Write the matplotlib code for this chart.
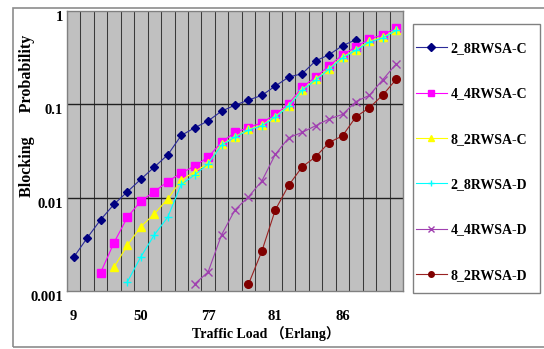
"""Blocking probability vs traffic load for the six RWSA variants."""

import matplotlib
matplotlib.use("Agg")
import matplotlib.pyplot as plt
import matplotlib.patches as mpatches
import matplotlib.transforms as mtransforms
import numpy as np

# category axis: 25 load points, only every fifth one is labelled
N_CATEGORIES = 25
X_TICK_POS = [0, 5, 10, 15, 20]
X_TICK_LABELS = ["9", "50", "77", "81", "86"]

# each series starts at a category index
RWSA_2_8_C_START = 0
RWSA_2_8_C = [0.0023, 0.0037, 0.0058, 0.0085, 0.0116, 0.0158, 0.0213, 0.0288,
              0.0465, 0.056, 0.0665, 0.0845, 0.098, 0.111, 0.125, 0.157,
              0.196, 0.213, 0.292, 0.340, 0.425, 0.493]

RWSA_4_4_C_START = 2
RWSA_4_4_C = [0.00157, 0.0033, 0.0062, 0.0092, 0.0116, 0.0149, 0.0184, 0.0218,
              0.0272, 0.0394, 0.050, 0.0564, 0.0635, 0.078, 0.101, 0.153,
              0.196, 0.258, 0.340, 0.411, 0.503, 0.553, 0.662]

RWSA_8_2_C_START = 3
RWSA_8_2_C = [0.0018, 0.0031, 0.0049, 0.0067, 0.0097, 0.0154, 0.019, 0.0233,
              0.0372, 0.045, 0.054, 0.060, 0.074, 0.097, 0.144, 0.185,
              0.242, 0.322, 0.386, 0.475, 0.525, 0.628]

RWSA_2_8_D_START = 4
RWSA_2_8_D = [0.00126, 0.00233, 0.0040, 0.0062, 0.0139, 0.0175, 0.023, 0.0366,
              0.0445, 0.053, 0.059, 0.073, 0.096, 0.142, 0.182, 0.238,
              0.316, 0.380, 0.465, 0.515, 0.620]

RWSA_4_4_D_START = 9
RWSA_4_4_D = [0.00119, 0.0016, 0.0040, 0.0074, 0.0102, 0.0151, 0.0291, 0.0439,
              0.050, 0.059, 0.0696, 0.078, 0.107, 0.125, 0.184, 0.272]

RWSA_8_2_D_START = 13
RWSA_8_2_D = [0.00118, 0.00268, 0.0074, 0.0136, 0.0214, 0.0274, 0.039, 0.046,
              0.0736, 0.092, 0.126, 0.186]

# name, start, values, line colour, marker colour, marker, size
SERIES = [
    ("2_8RWSA-C", RWSA_2_8_C_START, RWSA_2_8_C, "#2B2B99", "#000080", "D", 4.2),
    ("4_4RWSA-C", RWSA_4_4_C_START, RWSA_4_4_C, "#FF00FF", "#FF00FF", "s", 5.5),
    ("8_2RWSA-C", RWSA_8_2_C_START, RWSA_8_2_C, "#FFFF00", "#FFFF00", "^", 5.5),
    ("2_8RWSA-D", RWSA_2_8_D_START, RWSA_2_8_D, "#00FFFF", "#00FFFF", "+", 5.5),
    ("4_4RWSA-D", RWSA_4_4_D_START, RWSA_4_4_D, "#A040B0", "#A040B0", "x", 5.5),
    ("8_2RWSA-D", RWSA_8_2_D_START, RWSA_8_2_D, "#992222", "#800000", "o", 5.5),
]

SERIF = ["Liberation Serif", "DejaVu Serif"]
W, H = 544, 349


def main() -> None:
    fig = plt.figure(figsize=(W / 100, H / 100), dpi=100)
    fig.patch.set_facecolor("white")

    # outer chart border
    fig.add_artist(mpatches.Rectangle((13 / W, 1 - 347 / H), 540 / W, 339 / H,
                                      transform=fig.transFigure, fill=False,
                                      edgecolor="#8c8c8c", linewidth=1.2))

    ax = fig.add_axes([67 / W, 1 - 291 / H, 336 / W, 280 / H])
    ax.set_facecolor("#C0C0C0")

    for name, start, vals, lc, mc, marker, ms in SERIES:
        x = np.arange(start, start + len(vals))
        ax.plot(x, vals, color=lc, linewidth=0.8, marker=marker,
                markersize=ms, markerfacecolor=mc, markeredgecolor=mc,
                markeredgewidth=1.0, label=name, zorder=3)

    ax.set_yscale("log")
    ax.set_ylim(0.001, 1)
    ax.set_xlim(-0.5, N_CATEGORIES - 0.5)

    # category separators and decade gridlines
    for b in np.arange(-0.5, N_CATEGORIES, 1.0):
        ax.axvline(b, color="#3a3a3a", linewidth=0.75, zorder=1)
    for yv in (0.01, 0.1):
        ax.axhline(yv, color="#202020", linewidth=1.0, zorder=1)

    for side in ("top", "right", "bottom", "left"):
        ax.spines[side].set_color("#808080")
        ax.spines[side].set_linewidth(1.0)

    ax.set_yticks([0.001, 0.01, 0.1, 1])
    ax.set_yticklabels(["0.001", "0.01", "0.1", "1"])
    ax.yaxis.set_minor_locator(matplotlib.ticker.NullLocator())
    ax.set_xticks(X_TICK_POS)
    ax.set_xticklabels(X_TICK_LABELS)
    ax.tick_params(axis="both", length=0)
    ax.tick_params(axis="y", pad=3)
    ax.tick_params(axis="x", pad=14)
    for lab in ax.get_xticklabels() + ax.get_yticklabels():
        lab.set_fontfamily(SERIF)
        lab.set_fontweight("bold")
        lab.set_fontsize(10.5)
    offset = mtransforms.ScaledTranslation(0, -5 / 100, fig.dpi_scale_trans)
    for lab in ax.get_yticklabels():
        lab.set_transform(lab.get_transform() + offset)

    fig.text(27 / W, 1 - 116 / H, "Blocking      Probability", rotation=90,
             ha="center", va="center", fontsize=11.5, fontweight="bold",
             family=SERIF)
    fig.text(266 / W, 1 - 334 / H, "Traffic Load （Erlang）", ha="center",
             va="center", fontsize=10, fontweight="bold",
             family=["Liberation Serif", "Noto Sans CJK SC"])

    # legend box drawn by hand so the padding can differ per side
    fig.add_artist(mpatches.Rectangle((413 / W, 1 - 293 / H), 127 / W, 269 / H,
                                      transform=fig.transFigure, fill=False,
                                      edgecolor="#808080", linewidth=1.0))
    leg = fig.legend(loc="upper left", bbox_to_anchor=(416 / W, 1 - 42 / H),
                     frameon=False, borderpad=0, borderaxespad=0,
                     labelspacing=2.33, handlelength=2.2, handletextpad=0.3,
                     prop={"family": SERIF, "weight": "bold", "size": 10})
    for h in leg.legend_handles:
        h.set_markersize(4)

    fig.savefig("out.png", dpi=100)
    plt.close(fig)


if __name__ == "__main__":
    main()
